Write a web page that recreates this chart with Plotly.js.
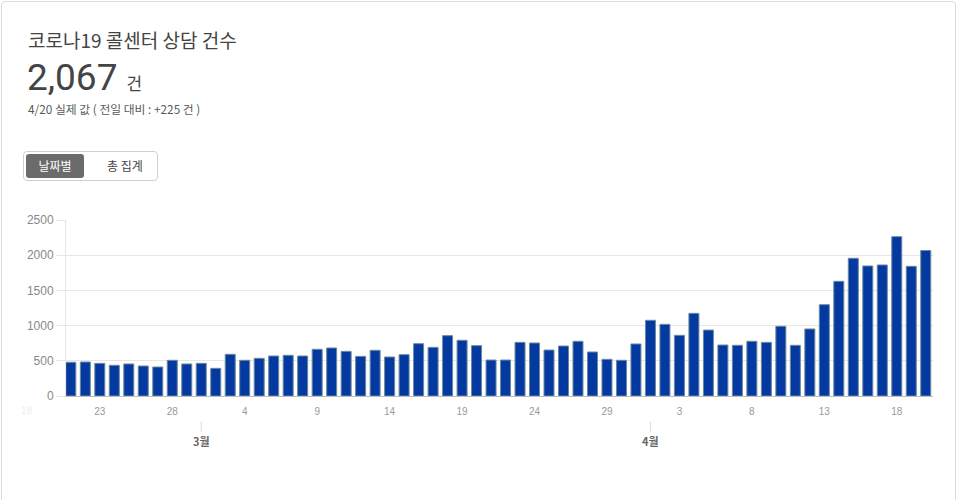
<!DOCTYPE html>
<html>
<head>
<meta charset="utf-8">
<script src="https://cdn.plot.ly/plotly-3.0.1.min.js"></script>
<style>
  html, body { margin: 0; padding: 0; background: #fff; }
  body { width: 959px; height: 500px; overflow: hidden; position: relative;
         font-family: "Noto Sans CJK KR", Roboto, sans-serif; }
  .card { position: absolute; left: 1px; top: 1px; width: 955px; height: 540px;
          border: 1px solid #dcdcdc; border-radius: 4px; box-sizing: border-box; }
  .title { position: absolute; left: 28px; top: 26px; font-size: 19px; color: #444; }
  .big { position: absolute; left: 27px; top: 56px; color: #444; white-space: nowrap; }
  .big .num { font-family: Roboto, "Noto Sans CJK KR", sans-serif; font-size: 37px; font-weight: 400; }
  .big .unit { font-size: 17px; margin-left: 9px; }
  .sub { position: absolute; left: 28px; top: 100px; font-size: 11.8px; color: #5a5a5a; }
  .seg { position: absolute; left: 23px; top: 151px; width: 135px; height: 30px;
         border: 1px solid #cfcfcf; border-radius: 4px; box-sizing: border-box; }
  .seg .on { position: absolute; left: 2px; top: 2px; width: 58px; height: 24px;
             background: #6b6b6b; color: #fff; border-radius: 3px; font-size: 12px;
             line-height: 24px; text-align: center; }
  .seg .off { position: absolute; left: 70px; top: 2px; width: 62px; height: 24px;
              color: #444; font-size: 12px; line-height: 24px; text-align: center; }
  #chart { position: absolute; left: 0; top: 200px; width: 959px; height: 300px; }
</style>
</head>
<body>
<div class="card"></div>
<div class="title">코로나19 콜센터 상담 건수</div>
<div class="big"><span class="num">2,067</span><span class="unit">건</span></div>
<div class="sub">4/20 실제 값 ( 전일 대비 : +225 건 )</div>
<div class="seg"><div class="on">날짜별</div><div class="off">총 집계</div></div>
<div id="chart"></div>
<script>
(function () {

    const chartDiv = document.getElementById("chart");

    const BAR_FILL = "#0339a0";
    const BAR_EDGE = "#6a8a9c";
    const GRID = "#e6e6e6";
    const TICK_TEXT = "#999";
    const TICK_FONT = "Liberation Sans, Arial, sans-serif";

    // daily counts, 2020-02-21 .. 2020-04-20
    const dates = [
        "2020-02-21", "2020-02-22", "2020-02-23", "2020-02-24", "2020-02-25", "2020-02-26",
        "2020-02-27", "2020-02-28", "2020-02-29",
        "2020-03-01", "2020-03-02", "2020-03-03", "2020-03-04", "2020-03-05", "2020-03-06",
        "2020-03-07", "2020-03-08", "2020-03-09", "2020-03-10", "2020-03-11", "2020-03-12",
        "2020-03-13", "2020-03-14", "2020-03-15", "2020-03-16", "2020-03-17", "2020-03-18",
        "2020-03-19", "2020-03-20", "2020-03-21", "2020-03-22", "2020-03-23", "2020-03-24",
        "2020-03-25", "2020-03-26", "2020-03-27", "2020-03-28", "2020-03-29", "2020-03-30",
        "2020-03-31",
        "2020-04-01", "2020-04-02", "2020-04-03", "2020-04-04", "2020-04-05", "2020-04-06",
        "2020-04-07", "2020-04-08", "2020-04-09", "2020-04-10", "2020-04-11", "2020-04-12",
        "2020-04-13", "2020-04-14", "2020-04-15", "2020-04-16", "2020-04-17", "2020-04-18",
        "2020-04-19", "2020-04-20"
    ];

    const calls = [
        479, 483, 464, 436, 455, 426, 412, 507, 455,
        464, 393, 592, 507, 535, 568, 578, 568, 663, 682, 634,
        563, 649, 554, 587, 743, 691, 857, 791, 715, 511,
        511, 762, 753, 653, 710, 777, 625, 521, 507, 739,
        1075, 1018, 862, 1174, 937, 724, 720, 777, 762, 990,
        720, 952, 1297, 1629, 1956, 1847, 1861, 2263, 1842, 2067
    ];

    const tickDates = [
        "2020-02-23", "2020-02-28", "2020-03-04", "2020-03-09", "2020-03-14", "2020-03-19",
        "2020-03-24", "2020-03-29", "2020-04-03", "2020-04-08", "2020-04-13", "2020-04-18"
    ];
    const tickLabels = ["23", "28", "4", "9", "14", "19", "24", "29", "3", "8", "13", "18"];

    const monthDates = ["2020-03-01", "2020-04-01"];
    const monthLabels = ["3월", "4월"];

    // month labels hang below a short tick line (drawn as the annotation arrow)
    const annotations = monthDates.map((d, i) => ({
        x: d, xref: "x", y: -0.148, yref: "paper",
        text: monthLabels[i],
        showarrow: true, arrowhead: 0, arrowwidth: 1, arrowcolor: "#d8d8d8",
        ax: 0, ay: 19, standoff: 0,
        font: { size: 11, color: "#666", family: "Noto Sans CJK KR, sans-serif", weight: 700 }
    }));
    // faded label of the day before the visible range
    annotations.push({
        x: -0.045, xref: "paper", y: -0.085, yref: "paper",
        xanchor: "center", yanchor: "middle",
        text: "18", showarrow: false,
        font: { size: 10, color: "#eeeeee", family: TICK_FONT }
    });

    const traces = [{
        type: "bar",
        x: dates,
        y: calls,
        marker: { color: BAR_FILL, line: { color: BAR_EDGE, width: 1 } },
        hoverinfo: "x+y"
    }];

    const layout = {
        width: 959,
        height: 300,
        paper_bgcolor: "rgba(0,0,0,0)",
        plot_bgcolor: "rgba(0,0,0,0)",
        margin: { l: 66, r: 26, t: 20, b: 104 },
        showlegend: false,
        bargap: 0.31,
        font: { family: TICK_FONT },
        xaxis: {
            type: "date",
            range: ["2020-02-20 16:00", "2020-04-20 12:00"],
            tickvals: tickDates,
            ticktext: tickLabels,
            ticks: "outside",
            ticklen: 6,
            tickcolor: "rgba(0,0,0,0)",
            tickfont: { size: 10, color: TICK_TEXT, family: TICK_FONT },
            showgrid: false,
            showline: true,
            linecolor: "#bdbdbd",
            linewidth: 1,
            zeroline: false,
            fixedrange: true
        },
        yaxis: {
            range: [0, 2500],
            dtick: 500,
            ticks: "outside",
            ticklen: 9,
            tickcolor: GRID,
            tickfont: { size: 12, color: "#888", family: TICK_FONT },
            gridcolor: GRID,
            showline: true,
            linecolor: GRID,
            zeroline: false,
            fixedrange: true
        },
        annotations: annotations
    };

    Plotly.newPlot(chartDiv, traces, layout, { displayModeBar: false });

})();
</script>
</body>
</html>
